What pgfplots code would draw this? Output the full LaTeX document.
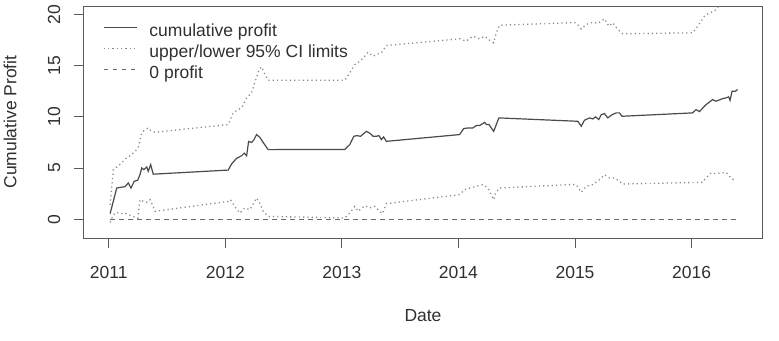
\documentclass[border=0pt]{standalone}
\usepackage{pgfplots}
\pgfplotsset{compat=1.18}
\usepackage{fontspec}
\setmainfont{Liberation Sans}

\definecolor{profitline}{HTML}{4A4A4A}
\definecolor{ciline}{HTML}{8A8A8A}
\definecolor{zeroline}{HTML}{6A6A6A}
\definecolor{framegray}{HTML}{5A5A5A}
\definecolor{txt}{HTML}{303030}

\newcommand{\plotfont}{\fontsize{17.5}{21}\selectfont}

% cumulative profit, by decimal year
\pgfplotstableread{
x y
2011.012 0.54
2011.069 3.05
2011.140 3.18
2011.168 3.54
2011.191 3.05
2011.219 3.70
2011.248 3.80
2011.268 4.35
2011.283 5.01
2011.302 4.84
2011.326 5.11
2011.339 4.68
2011.360 5.33
2011.382 4.40
2012.025 4.80
2012.054 5.40
2012.097 5.95
2012.140 6.20
2012.162 6.45
2012.183 6.20
2012.200 7.60
2012.225 7.50
2012.245 7.75
2012.268 8.27
2012.296 8.00
2012.325 7.50
2012.368 6.80
2013.025 6.82
2013.068 7.29
2013.102 8.10
2013.130 8.17
2013.160 8.10
2013.211 8.59
2013.240 8.40
2013.268 8.10
2013.296 8.10
2013.318 8.17
2013.339 7.78
2013.358 8.04
2013.382 7.61
2014.010 8.27
2014.045 8.86
2014.082 8.92
2014.124 8.92
2014.153 9.15
2014.182 9.15
2014.225 9.47
2014.240 9.25
2014.262 9.25
2014.302 8.59
2014.319 9.08
2014.347 9.90
2015.024 9.57
2015.053 9.08
2015.081 9.67
2015.124 9.90
2015.153 9.80
2015.176 10.00
2015.204 9.74
2015.225 10.22
2015.253 10.32
2015.281 9.90
2015.319 10.22
2015.353 10.39
2015.381 10.39
2015.404 10.06
2016.009 10.39
2016.038 10.71
2016.067 10.52
2016.124 11.20
2016.181 11.69
2016.210 11.53
2016.267 11.79
2016.296 11.86
2016.318 11.96
2016.330 11.62
2016.347 12.50
2016.375 12.50
2016.395 12.67
}\profittab

% upper 95% confidence limit
\pgfplotstableread{
x y
2011.012 1.40
2011.040 4.84
2011.069 5.11
2011.111 5.50
2011.154 5.99
2011.197 6.31
2011.240 6.80
2011.254 7.06
2011.283 8.43
2011.311 8.76
2011.339 8.92
2011.368 8.59
2011.397 8.50
2012.025 9.25
2012.068 10.39
2012.111 10.71
2012.140 10.88
2012.183 11.86
2012.225 12.35
2012.254 13.40
2012.290 14.63
2012.311 14.89
2012.340 14.14
2012.368 13.58
2013.025 13.58
2013.068 14.30
2013.111 15.12
2013.154 15.44
2013.197 15.93
2013.225 16.32
2013.268 15.93
2013.296 16.10
2013.339 16.26
2013.382 16.98
2014.010 17.63
2014.067 17.40
2014.124 17.89
2014.182 17.63
2014.225 17.89
2014.267 17.50
2014.302 17.24
2014.325 18.22
2014.353 18.96
2014.953 19.20
2015.010 19.20
2015.053 18.60
2015.096 19.03
2015.153 19.26
2015.196 19.13
2015.253 19.59
2015.290 18.87
2015.324 19.20
2015.367 18.54
2015.410 18.12
2016.009 18.22
2016.053 18.87
2016.110 19.84
2016.153 20.18
2016.196 20.34
2016.230 20.76
2016.258 21.00
2016.324 20.85
2016.347 21.60
2016.395 21.70
}\uppertab

% lower 95% confidence limit
\pgfplotstableread{
x y
2011.012 -0.31
2011.040 0.44
2011.069 0.67
2011.097 0.54
2011.140 0.60
2011.168 0.44
2011.250 0.10
2011.268 1.91
2011.297 1.74
2011.325 1.65
2011.354 1.91
2011.382 1.25
2011.397 0.77
2012.025 1.74
2012.045 1.91
2012.080 1.25
2012.125 0.60
2012.168 1.10
2012.211 0.93
2012.268 2.07
2012.296 1.58
2012.325 0.77
2012.368 0.27
2013.025 0.12
2013.068 0.60
2013.111 1.25
2013.139 0.77
2013.197 1.32
2013.239 1.10
2013.282 1.25
2013.310 0.93
2013.348 0.54
2013.382 1.52
2014.010 2.40
2014.053 2.89
2014.096 3.05
2014.153 3.21
2014.210 3.38
2014.253 3.05
2014.302 1.91
2014.319 2.56
2014.353 3.05
2014.953 3.38
2015.010 3.38
2015.053 2.62
2015.096 3.21
2015.153 3.38
2015.210 3.86
2015.253 4.35
2015.296 4.03
2015.339 4.03
2015.381 3.70
2015.410 3.44
2016.095 3.60
2016.124 4.03
2016.167 4.52
2016.210 4.45
2016.253 4.52
2016.296 4.58
2016.339 4.03
2016.381 3.70
}\lowertab

\pgfplotstableread{
x y
2011.012 0
2016.395 0
}\zerotab

\begin{document}
\begin{tikzpicture}[x=1pt,y=1pt]
\path[use as bounding box] (-84,-102) rectangle (695,238);
\begin{axis}[
  at={(0,0)}, anchor=south west,
  scale only axis, width=678pt, height=232pt,
  xmin=2010.788, xmax=2016.604,
  ymin=-1.84, ymax=20.84,
  xtick={2011,2012,2013,2014,2015,2016},
  ytick={0,5,10,15,20},
  /pgf/number format/1000 sep={},
  /pgf/number format/assume math mode=true,
  axis line style={framegray, line width=1pt},
  tick style={framegray, line width=1pt},
  tick align=outside, major tick length=10pt,
  xtick pos=bottom, ytick pos=left,
  tick label style={font=\plotfont, text=txt, inner sep=0pt},
  xticklabel style={anchor=base, yshift=-30pt},
  yticklabel style={rotate=90, anchor=base, yshift=14pt},
  every axis x label/.style={at={(axis description cs:0.5,-0.362)}, anchor=base, font=\plotfont, text=txt, inner sep=0pt},
  every axis y label/.style={at={(axis description cs:-0.0993,0.5)}, rotate=90, anchor=south, font=\plotfont, text=txt, inner sep=0pt},
  xlabel={Date},
  ylabel={Cumulative Profit},
  legend cell align=left,
  legend style={at={(0,1)}, anchor=north west, xshift=16pt, yshift=-16pt,
    draw=none, fill=none, font=\plotfont, text=txt,
    nodes={inner sep=0pt, text height=12.5pt, text depth=3.5pt},
    row sep=5pt,
    /tikz/every odd column/.append style={column sep=12pt}},
  legend image code/.code={\draw[#1] (0pt,4.5pt) -- (33pt,4.5pt);},
]
\addplot[profitline, line width=1.2pt] table[x=x,y=y] {\profittab};
\addlegendentry{cumulative profit}
\addplot[ciline, line width=1.3pt, dash pattern=on 1.2pt off 3.1pt] table[x=x,y=y] {\uppertab};
\addlegendentry{upper/lower 95\% CI limits}
\addplot[ciline, line width=1.3pt, dash pattern=on 1.2pt off 3.1pt, forget plot] table[x=x,y=y] {\lowertab};
\addplot[zeroline, line width=1.2pt, dash pattern=on 4.5pt off 4.5pt] table[x=x,y=y] {\zerotab};
\addlegendentry{0 profit}
\end{axis}
\end{tikzpicture}
\end{document}
